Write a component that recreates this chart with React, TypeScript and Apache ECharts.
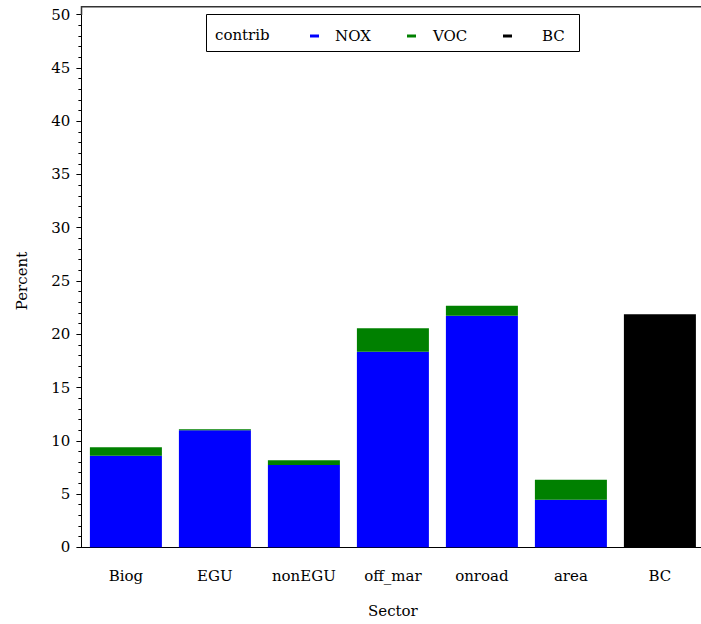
import React, { useEffect, useRef } from "react";
import * as echarts from "echarts";

const sectors = ["Biog", "EGU", "nonEGU", "off_mar", "onroad", "area", "BC"];
const noxValues: (number | string)[] = [8.6, 10.98, 7.73, 18.36, 21.74, 4.47, "-"];
const vocValues: (number | string)[] = [0.79, 0.1, 0.44, 2.2, 0.94, 1.88, "-"];
const bcValues: (number | string)[] = ["-", "-", "-", "-", "-", "-", 21.87];
const seriesNames = ["NOX", "VOC", "BC"];
const seriesColors = ["#0000FF", "#008000", "#000000"];

const FONT = "DejaVu Serif";

export default function App() {
  const ref = useRef<HTMLDivElement>(null);
  useEffect(() => {
    if (!ref.current) return;
    const chart = echarts.init(ref.current, null, { renderer: "svg" });
    const dataSets = [noxValues, vocValues, bcValues];
    const legendLefts = [310, 407, 503];
    const legendPads = [11, 12, 25];
    chart.setOption({
      animation: false,
      backgroundColor: "#ffffff",
      textStyle: { fontFamily: FONT },
      grid: {
        left: 81.4,
        right: -3.4,
        top: 14.7,
        bottom: 76.7,
        containLabel: false,
        outerBoundsMode: "none",
      },
      legend: seriesNames.map((n, i) => ({
        data: [n],
        left: legendLefts[i],
        top: 28,
        padding: 0,
        itemWidth: 9,
        itemHeight: 3,
        icon: "rect",
        selectedMode: false,
        z: 10,
        itemStyle: { borderWidth: 0 },
        textStyle: {
          fontFamily: FONT,
          fontSize: 15,
          color: "#000",
          lineHeight: 16,
          padding: [0, 0, 0, legendPads[i]],
        },
      })),
      graphic: [
        {
          type: "polyline",
          z: 1,
          shape: { points: [[81.5, 15], [81.5, 6.7], [701, 6.7]] },
          style: { stroke: "#333", lineWidth: 1.5, fill: null },
        },
        {
          type: "rect",
          z: 1,
          shape: { x: 206.5, y: 14.5, width: 373, height: 37 },
          style: { stroke: "#000", lineWidth: 1, fill: "#fff" },
        },
        {
          type: "text",
          z: 2,
          x: 215,
          y: 35,
          style: {
            text: "contrib",
            font: `15px "${FONT}"`,
            fill: "#000",
            verticalAlign: "middle",
            align: "left",
          },
        },
      ],
      xAxis: {
        type: "category",
        data: sectors,
        name: "Sector",
        nameLocation: "middle",
        nameGap: 56,
        nameTextStyle: { fontFamily: FONT, fontSize: 15, color: "#000" },
        axisLine: { lineStyle: { color: "#000", width: 1 } },
        axisTick: { show: false },
        axisLabel: {
          margin: 21,
          fontFamily: FONT,
          fontSize: 15,
          color: "#000",
          interval: 0,
        },
        splitLine: { show: false },
      },
      yAxis: {
        type: "value",
        min: 0,
        max: 50,
        interval: 5,
        name: "Percent",
        nameLocation: "middle",
        nameGap: 52,
        nameTextStyle: { fontFamily: FONT, fontSize: 15, color: "#000" },
        axisLine: { show: true, lineStyle: { color: "#000", width: 1 } },
        axisTick: { show: true, length: 5, lineStyle: { color: "#000" } },
        minorTick: { show: true, splitNumber: 5, length: 3, lineStyle: { color: "#000" } },
        axisLabel: { margin: 11, fontFamily: FONT, fontSize: 15, color: "#000" },
        splitLine: { show: false },
      },
      series: seriesNames.map((n, i) => ({
        name: n,
        type: "bar",
        stack: "total",
        barWidth: 72,
        data: dataSets[i],
        itemStyle: {
          color: seriesColors[i],
          borderWidth: 0,
        },
      })),
    });
    return () => chart.dispose();
  }, []);
  return (
    <div
      ref={ref}
      style={{ position: "absolute", left: 0, top: 0, width: 701, height: 624 }}
    />
  );
}
